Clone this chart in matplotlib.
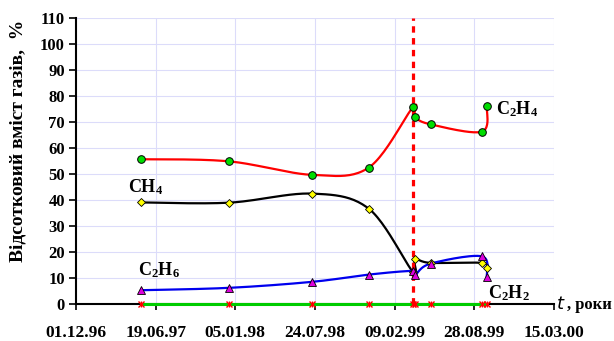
import numpy as np
import matplotlib.pyplot as plt
import matplotlib.dates as mdates
from datetime import date, timedelta

plt.rcParams['font.family'] = ['Liberation Serif', 'DejaVu Serif']
plt.rcParams['mathtext.fontset'] = 'custom'
plt.rcParams['mathtext.rm'] = 'Liberation Serif:bold'
plt.rcParams['mathtext.bf'] = 'Liberation Serif:bold'

# measurement dates
dates = [date(1997, 5, 14), date(1997, 12, 19), date(1998, 7, 16), date(1998, 12, 6),
         date(1999, 3, 27), date(1999, 4, 1), date(1999, 5, 10), date(1999, 9, 16),
         date(1999, 9, 28)]
c2h4 = [55.6, 54.8, 49.6, 52.4, 75.6, 71.9, 69.0, 66.2, 76.2]
ch4 = [39.0, 38.9, 42.4, 36.6, 12.3, 17.1, 15.8, 15.8, 13.9]
c2h6 = [5.3, 6.2, 8.5, 11.3, 12.7, 11.1, 15.5, 18.3, 10.2]
c2h2 = [0, 0, 0, 0, 0, 0, 0, 0, 0]
event_date = date(1999, 3, 27)

start_date = date(1996, 12, 1)
tick_dates = [start_date + timedelta(days=200 * i) for i in range(7)]
tick_labels = ['01.12.96', '19.06.97', '05.01.98', '24.07.98', '09.02.99', '28.08.99', '15.03.00']
y_ticks = list(range(0, 111, 10))

fig = plt.figure(figsize=(6.14, 3.41), dpi=100)
ax = fig.add_axes([0.1238, 0.1085, 0.7785, 0.84])

xd = mdates.date2num(dates)
ax.set_xlim(mdates.date2num(tick_dates[0]), mdates.date2num(tick_dates[-1]))
ax.set_ylim(0, 110)


# smoothed line like Excel (bezier through points, in screen space)
def smooth(x, y, n=25):
    pts = ax.transData.transform(np.column_stack([x, y]))
    p = np.vstack([pts[0], pts, pts[-1]])
    t = np.linspace(0, 1, n)[:, None]
    segs = []
    for i in range(1, len(p) - 2):
        p0, p1, p2, p3 = p[i - 1], p[i], p[i + 1], p[i + 2]
        c1 = p1 + (p2 - p0) / 6
        c2 = p2 - (p3 - p1) / 6
        segs.append((1 - t) ** 3 * p1 + 3 * (1 - t) ** 2 * t * c1
                    + 3 * (1 - t) * t ** 2 * c2 + t ** 3 * p2)
    curve = ax.transData.inverted().transform(np.vstack(segs))
    return curve[:, 0], curve[:, 1]


# grid
for v in y_ticks[1:]:
    ax.axhline(v, color='#DCDCFA', lw=0.8, zorder=0)
for d in tick_dates[1:]:
    ax.axvline(mdates.date2num(d), color='#DCDCFA', lw=0.8, zorder=0)

ax.plot(xd, c2h2, color='#00CC00', lw=2.2, zorder=3, clip_on=False)
ax.plot(xd, c2h2, ls='none', marker='x', ms=4, mec='red', mew=1, zorder=4, clip_on=False)
ax.plot(xd, c2h2, ls='none', marker='|', ms=5, mec='red', mew=1, zorder=4, clip_on=False)

sx, sy = smooth(xd, c2h4)
ax.plot(sx, sy, color='red', lw=1.6, zorder=3)
ax.plot(xd, c2h4, ls='none', marker='o', ms=5.5, mfc='#00DD00', mec='black', mew=0.7, zorder=5)

sx, sy = smooth(xd, ch4)
ax.plot(sx, sy, color='black', lw=1.6, zorder=3)
ax.plot(xd, ch4, ls='none', marker='D', ms=4.2, mfc='yellow', mec='black', mew=0.6, zorder=5)

sx, sy = smooth(xd, c2h6)
ax.plot(sx, sy, color='#0000EE', lw=1.6, zorder=3)
ax.plot(xd, c2h6, ls='none', marker='^', ms=6, mfc='#DD00DD', mec='black', mew=0.6, zorder=6)

ax.axvline(mdates.date2num(event_date), color='red', lw=2.3, ls=(0, (2, 1.7)), zorder=4)

# series labels
lab = dict(fontsize=13, fontweight='bold', va='center')
ax.text(mdates.date2num(date(1997, 4, 10)), 45, r'$\mathrm{CH_4}$', **lab)
ax.text(mdates.date2num(date(1997, 5, 5)), 13, r'$\mathrm{C_2H_6}$', **lab)
ax.text(mdates.date2num(date(1999, 10, 22)), 75, r'$\mathrm{C_2H_4}$', **lab)
ax.text(mdates.date2num(date(1999, 10, 1)), 4, r'$\mathrm{C_2H_2}$', **lab)

ax.set_xticks(mdates.date2num(tick_dates))
ax.set_xticklabels(tick_labels, fontsize=12.5, fontweight='bold')
ax.set_yticks(y_ticks)
ax.set_yticklabels([str(v) for v in y_ticks], fontsize=12, fontweight='bold')
ax.tick_params(axis='x', direction='out', length=4, width=1.2, pad=11)
ax.tick_params(axis='y', direction='out', length=5, width=1.2, pad=3)

for s in ['top', 'right']:
    ax.spines[s].set_visible(False)
for s in ['left', 'bottom']:
    ax.spines[s].set_linewidth(1.5)

ax.set_ylabel('Відсотковий вміст газів,  %', fontsize=14, fontweight='bold')
ax.yaxis.set_label_coords(-0.104, 0.57)
fig.text(0.905, 0.108, r'$\mathit{t}$', fontsize=13, fontweight='bold', va='center')
fig.text(0.923, 0.105, ', роки', fontsize=12, fontweight='bold', va='center')

fig.savefig('out.png', dpi=100)
